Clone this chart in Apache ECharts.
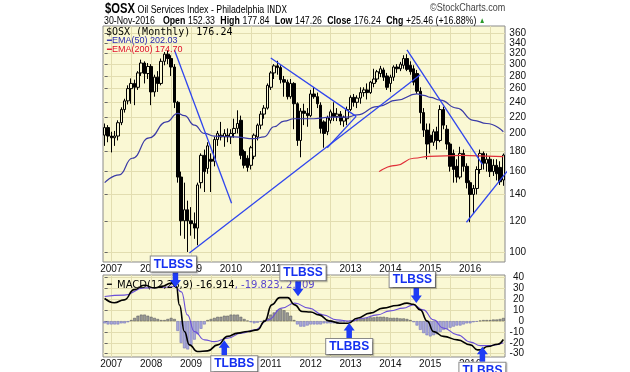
<!DOCTYPE html>
<html><head><meta charset="utf-8">
<script src="https://cdn.jsdelivr.net/npm/echarts@6/dist/echarts.min.js"></script>
<style>html,body{margin:0;padding:0;background:#fff}#c{width:630px;height:372px}</style>
</head><body><div id="c"></div>
<script>
// ---------- DATA (monthly, Nov 2006 .. Nov 2016) ----------
const firstYear = 2006, firstMonth = 10; // Nov 2006 (0-based month)
const years = ['2007','2008','2009','2010','2011','2012','2013','2014','2015','2016'];
const open  = [198,207,197,195,197,213,230,242,260,268,262,285,302,284,296,255,278,268,305,318,310,295,240,155,120,128,120,118,115,150,176,163,172,170,193,198,196,198,196,200,206,216,180,173,166,175,196,210,224,232,262,285,297,294,274,270,248,268,238,192,228,225,222,252,248,236,214,202,216,225,221,224,215,218,230,247,240,246,254,258,254,268,275,284,290,280,268,278,295,292,298,310,298,292,284,256,226,204,198,190,202,192,230,205,188,178,165,155,178,165,150,140,145,162,178,168,172,160,166,164,152.33];
const high  = [212,210,202,203,216,233,245,265,276,274,288,308,305,302,300,282,288,310,322,325,316,300,242,160,150,135,130,126,150,178,182,190,178,196,203,214,205,206,205,218,229,222,182,176,186,200,212,228,236,268,288,300,306,298,280,274,275,270,240,232,238,232,258,262,254,240,216,222,230,240,232,228,222,234,250,252,250,262,262,268,272,292,290,297,294,285,282,298,300,304,316,318,305,298,290,262,232,212,212,205,208,236,234,210,190,182,172,185,182,168,152,148,165,182,180,178,175,172,172,170,177.84];
const low   = [186,190,179,186,192,210,226,237,238,236,258,280,268,275,236,248,255,265,298,300,280,232,150,110,108,100,110,108,104,145,142,158,142,165,186,192,185,190,188,195,200,172,163,160,162,172,192,205,218,230,258,275,282,268,248,244,245,205,186,174,210,208,220,245,232,200,184,198,212,215,215,210,208,210,228,234,232,238,248,244,252,262,270,278,272,258,255,272,285,288,292,288,282,265,252,212,196,172,178,186,182,190,205,182,160,150,150,153,160,145,119,125,140,158,162,160,155,156,152,148,147.26];
const close = [207,197,195,197,213,230,242,260,268,262,285,302,284,296,255,278,268,305,318,310,295,240,155,120,128,120,118,115,148,176,160,186,170,193,200,196,200,196,200,206,212,176,166,164,184,198,210,224,232,265,285,297,294,274,270,248,268,238,192,228,225,222,252,248,238,206,200,219,227,221,224,215,220,230,247,240,246,254,258,254,270,275,287,292,278,262,278,295,292,300,310,291,287,270,256,226,204,188,190,202,192,230,210,188,165,162,155,178,165,150,140,145,162,178,168,172,160,166,158,150.78,176.24];
// EMA lines as [month index, value]
const ema50  = [[0,150],[4.4,157],[8.3,173],[13.4,195],[18.6,214],[22,225],[24,222],[27,210],[30,200],[33,197],[39,196],[45,194],[48,196],[51,208],[54,215],[57,218],[63,218],[68,220],[73,220],[76,223],[82,234],[88,243],[94,252],[96,250],[98,247],[101,243],[106,232],[111,216],[115,212],[120,202.03]];
const ema200 = [[82.6,160],[87.8,166],[93,173],[97.7,175],[107.4,176],[117.7,175],[120,174.7]];
// hand-drawn trend lines, endpoints as [month index, price]
const trendLines = [
  [[21,326],[38.2,133]],
  [[25.5,99.4],[95,282]],
  [[50,311],[75.7,221]],
  [[67,184],[75.7,221]],
  [[91,326],[113.7,167]],
  [[108.9,119],[121.6,162]]
];
// MACD panel
const macdLine = [[0,21],[2.9,17],[5.9,19.6],[8.9,29],[11.9,33],[15,30.6],[17.1,32],[20.1,35],[21.6,31.6],[22.5,15],[24,-9.5],[25.5,-21.8],[27.9,-28],[31,-27.4],[34,-21.8],[37,-14],[40,-11],[43,-9.5],[46,-8],[48.2,0],[50.3,15],[52.7,21.7],[55.1,21.7],[57.2,15],[59.4,8.9],[62,8.5],[64.5,5.8],[67.5,0.3],[70.8,-1.9],[73.3,-1.9],[76,2.7],[79.9,7.4],[83.8,12],[88,14.4],[91,16.6],[92.9,15.6],[95,10.4],[97.1,0],[99,-9.6],[102,-14],[106.2,-17.2],[110.1,-21.8],[112.2,-26.4],[113.1,-26.4],[115.3,-23.4],[118.3,-21.2],[120,-16.914]];
const signalLine = [[0,22.7],[5.9,24],[11.9,30.6],[17.1,31],[21,31.9],[23.1,27],[24.9,5.8],[27,-9.6],[30.1,-17.2],[33,-18.8],[37,-15.7],[41.2,-11],[45.2,-8],[49.2,1.2],[53.3,12],[57.2,16.6],[61.5,12],[65.7,5.8],[69.9,1.2],[73.9,0],[77.8,2.7],[82,5.8],[85.9,9.5],[89.9,12],[92.9,15],[95.9,10.4],[99,1.2],[102,-6.4],[106.2,-12.6],[110.1,-19.3],[113.1,-22.5],[116.2,-22.5],[120,-19.823]];
const histogram = [-2,-3,-3,-3,-3,-2,-2,-1,1,3,5,6,6,5,4,3,2,1,1,2,3,2,-9,-20,-25,-26,-22,-17,-12,-7,-3,1,2,3,4,4,5,5,6,6,6,4,2,0.5,-1,-2,-1.5,-0.5,1,3,6,8,10,11,10,8,5,1,-3,-5,-5,-4,-3,-3,-3,-3,-2,-2,-2,-2,-2,-1,-1,-0.5,0.5,1,1.5,2,2.5,3,3.5,3.5,4,4,4,3.5,3,3,3,2.5,2.5,2,1,-1,-4,-8,-11,-13,-14,-13,-12,-10,-8,-7,-6,-5,-4,-4,-3,-2,-2,-1,-0.5,0.5,1,1,1,1.5,1.5,2,2.909];
const priceTicks = [100,120,140,160,180,200,220,240,260,280,300,320,340,360];
const macdTicks = [-30,-20,-10,0,10,20,30,40];
// annotations: text, arrow direction, arrow tip [month index, MACD value]
const notes = [
  {text:'TLBSS', dir:'down', tip:[21.3,31]},
  {text:'TLBBS', dir:'up',   tip:[36,-17.5]},
  {text:'TLBSS', dir:'down', tip:[58.2,23]},
  {text:'TLBBS', dir:'up',   tip:[73.6,-1.6]},
  {text:'TLBSS', dir:'down', tip:[93.8,16.8]},
  {text:'TLBBS', dir:'up',   tip:[113.7,-23.6]}
];

// ---------- LAYOUT / STYLE ----------
const noteShift = [-2, 10, 5, 0, -4, 0];
const N = close.length;
const months = Array.from({length:N}, (_, i) => {
  const m = firstMonth + i; return (firstYear + Math.floor(m/12)) + '-' + (m%12+1);
});
const janIdx = [], gridIdx = [];
for (let i = 0; i < N; i++) {
  const m = (firstMonth + i) % 12;
  if (m === 0) janIdx.push(i);
  if (m === 0 || m === 6) gridIdx.push(i);
}
const yearOf = v => years[janIdx.indexOf(Math.round(v))] || '';
// price labels are split over two overlaid axes so that close labels are not dropped
const priceLabelsA = priceTicks.filter((v, k) => k % 2 === 0);
const priceLabelsB = priceTicks.filter((v, k) => k % 2 === 1);

const BG = '#FAF8D4', GRIDC = '#E2DDB0', AX = '#111';
const FONT = 'Liberation Sans, Arial, sans-serif';
const downArrow = 'path://M3,0 L9,0 L9,7 L12,7 L6,14 L0,7 L3,7 Z';
const upArrow = 'path://M6,0 L12,7 L9,7 L9,14 L3,14 L3,7 L0,7 Z';

const xLabelAxis = (g) => ({
  type:'value', gridIndex:g, min:-0.5, max:N-0.5, position:'bottom',
  axisLine:{show:false},
  axisTick:{show:false, customValues:gridIdx},
  axisLabel:{customValues:janIdx, formatter:yearOf, color:AX, fontSize:10, fontFamily:FONT, margin:2, hideOverlap:false},
  splitLine:{show:true, lineStyle:{color:GRIDC, width:1}}
});
const yLabel = (vals, margin) => ({customValues:vals, showMaxLabel:true, showMinLabel:true, hideOverlap:false,
  color:AX, fontSize:10, fontFamily:FONT, align:'right', margin});

const series = [];
series.push({
  type:'candlestick', xAxisIndex:0, yAxisIndex:0, barWidth:3,
  data: open.map((o,i)=>[o, close[i], low[i], high[i]]),
  itemStyle:{color:BG, color0:'#000', borderColor:'#000', borderColor0:'#000', borderWidth:1}
});
series.push({type:'line', xAxisIndex:1, yAxisIndex:0, data:ema50, smooth:true, smoothMonotone:'x', showSymbol:false,
  lineStyle:{color:'#3a3aa6', width:1.2}, z:3});
series.push({type:'line', xAxisIndex:1, yAxisIndex:0, data:ema200, smooth:true, smoothMonotone:'x', showSymbol:false,
  lineStyle:{color:'#e0303a', width:1.2}, z:3});
trendLines.forEach(tl => series.push({type:'line', xAxisIndex:1, yAxisIndex:0, data:tl, showSymbol:false,
  clip:false, lineStyle:{color:'#2f45ee', width:1.3}, z:4}));

series.push({type:'bar', xAxisIndex:2, yAxisIndex:1, barCategoryGap:'15%',
  data: histogram.map(v => ({value:v, itemStyle: v >= 0
    ? {color:'#9a9a9a', borderColor:'#555', borderWidth:0.5}
    : {color:'#a8a8dc', borderColor:'#6b6bb5', borderWidth:0.5}}))});
series.push({type:'line', xAxisIndex:3, yAxisIndex:1, data:signalLine, smooth:true, smoothMonotone:'x', showSymbol:false,
  lineStyle:{color:'#6a4fd8', width:1.1}, z:3});
series.push({type:'line', xAxisIndex:3, yAxisIndex:1, data:macdLine, smooth:true, smoothMonotone:'x', showSymbol:false,
  lineStyle:{color:'#000', width:1.6}, z:4,
  markPoint:{
    z:10,
    data: notes.map((n, k) => ({
      coord:n.tip, symbol: n.dir==='down' ? downArrow : upArrow, symbolSize:[11,15], symbolKeepAspect:false,
      symbolOffset:[0, n.dir==='down' ? '-50%' : '50%'],
      itemStyle:{color:'#1f3cf5'},
      label:{show:true, formatter:n.text, position: n.dir==='down' ? 'top' : 'bottom', distance:1,
        offset:[noteShift[k], 0],
        backgroundColor:'#fff', borderColor:'#8a8a8a', borderWidth:1, padding:[2,3,1,3],
        color:'#1530f0', fontWeight:'bold', fontSize:12, fontFamily:FONT,
        shadowColor:'rgba(0,0,0,0.25)', shadowOffsetX:1, shadowOffsetY:1, shadowBlur:1}
    }))
  }});

const T = (left, top, text, textStyle) => ({left, top, padding:0, itemGap:0, text,
  textStyle:Object.assign({fontWeight:'normal'}, textStyle)});
const HT = (x, y, sx, text, rich) => ({type:'text', x, y, scaleX:sx, silent:true,
  style:{text, rich, verticalAlign:'top', align:'left'}});
const option = {
  animation:false,
  backgroundColor:'#fff',
  graphic:[
    HT(105, 2, 0.8, '{a|$OSX} {b|Oil Services Index - Philadelphia} {c|INDX}',
      {a:{fontSize:14, fontWeight:'bold', fill:'#000', fontFamily:FONT},
       b:{fontSize:11, fill:'#000', fontFamily:FONT, padding:[2,0,0,0]},
       c:{fontSize:10, fill:'#000', fontFamily:'DejaVu Sans', padding:[2,0,0,0]}}),
    HT(104, 15, 0.8, '{n|30-Nov-2016}   {b|Open} {n|152.33}  {b|High} {n|177.84}  {b|Low} {n|147.26}  {b|Close} {n|176.24}  {b|Chg} {n|+25.46 (+16.88%)} {g|▲}',
      {n:{fontSize:11, fill:'#000', fontFamily:FONT}, b:{fontSize:11, fontWeight:'bold', fill:'#000', fontFamily:FONT},
       g:{fontSize:8, fill:'#2a9a2a'}}),
    HT(430, 3, 0.9, '{a|©StockCharts.com}', {a:{fontSize:10, fill:'#444', fontFamily:FONT}})
  ],
  title:[
    T(106, 27, '$OSX (Monthly) 176.24', {fontSize:10, color:'#000', fontFamily:'DejaVu Sans Mono'}),
    T(107, 36, '{l|━}{t|EMA(50) 202.03}', {rich:{l:{color:'#2a2ab0', fontSize:8}, t:{color:'#2a2ab0', fontSize:9, fontFamily:FONT}}}),
    T(107, 45, '{l|━}{t|EMA(200) 174.70}', {rich:{l:{color:'#e0102a', fontSize:8}, t:{color:'#e0102a', fontSize:9, fontFamily:FONT}}}),
    T(107, 276, '{l|━} {k|MACD(12,26,9) -16.914}{p|, -19.823, 2.909}', {rich:{l:{color:'#000', fontSize:8}, k:{color:'#000', fontSize:10, fontFamily:'DejaVu Sans'}, p:{color:'#5a48cc', fontSize:10, fontFamily:'DejaVu Sans'}}})
  ],
  grid:[
    {left:103, right:125, top:26, height:236, show:true, backgroundColor:BG, borderColor:'#8a8a8a', borderWidth:1},
    {left:103, right:125, top:275, height:82, show:true, backgroundColor:BG, borderColor:'#8a8a8a', borderWidth:1}
  ],
  xAxis:[
    {type:'category', gridIndex:0, data:months, show:false},
    xLabelAxis(0),
    {type:'category', gridIndex:1, data:months, show:false},
    xLabelAxis(1)
  ],
  yAxis:[
    {type:'log', gridIndex:0, min:94.3, max:375, position:'right',
     axisLine:{show:false},
     axisTick:{show:true, customValues:priceTicks, length:3, lineStyle:{color:'#666'}},
     axisLabel:yLabel(priceLabelsA, 21),
     splitLine:{show:true, lineStyle:{color:GRIDC, width:1}}},
    {type:'value', gridIndex:1, min:-33, max:42.5, position:'right',
     axisLine:{show:false},
     axisTick:{show:true, customValues:macdTicks, length:3, lineStyle:{color:'#666'}},
     axisLabel:yLabel(macdTicks, 19),
     splitLine:{show:true, lineStyle:{color:GRIDC, width:1}}},
    {type:'log', gridIndex:0, min:94.3, max:375, position:'right',
     axisLine:{show:false}, axisTick:{show:false, customValues:priceLabelsB},
     axisLabel:yLabel(priceLabelsB, 21), splitLine:{show:false}}
  ],
  series
};
const chart = echarts.init(document.getElementById('c'), null, {renderer:'canvas'});
chart.setOption(option);
</script></body></html>
